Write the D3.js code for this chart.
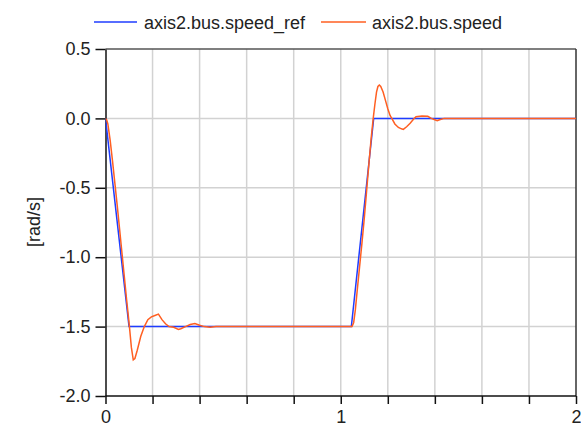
<!DOCTYPE html>
<html>
<head>
<meta charset="utf-8">
<script src="https://cdn.jsdelivr.net/npm/d3@7"></script>
<style>
  html, body { margin: 0; padding: 0; background: #fff; }
  svg { display: block; font-family: "Liberation Sans", Arial, sans-serif; }
</style>
</head>
<body>
<svg id="chart" width="581" height="429"></svg>
<script>
// ---- data ----
const seriesNames = ["axis2.bus.speed_ref", "axis2.bus.speed"];
const refTime  = [0, 0.1, 1.045, 1.14, 2.0];
const refValue = [0, -1.5, -1.5, 0, 0];
const speedTime = [0, 0.005, 0.01, 0.02, 0.03, 0.04, 0.05, 0.06, 0.07, 0.08, 0.09, 0.10, 0.105, 0.11, 0.118, 0.125, 0.135, 0.15, 0.165, 0.18, 0.195, 0.21, 0.225, 0.24, 0.255, 0.27, 0.29, 0.31, 0.32, 0.34, 0.36, 0.38, 0.40, 0.42, 0.445, 0.47,
  1.048, 1.055, 1.062, 1.07, 1.08, 1.09, 1.10, 1.11, 1.12, 1.13, 1.138, 1.145, 1.152, 1.158, 1.164, 1.17, 1.18, 1.19, 1.20, 1.21, 1.217, 1.23, 1.245, 1.258, 1.266, 1.28, 1.295, 1.31, 1.32, 1.345, 1.37, 1.385, 1.40, 1.41, 1.42, 1.44, 2.0];
const speedValue = [0, -0.01, -0.04, -0.16, -0.31, -0.47, -0.63, -0.80, -0.97, -1.14, -1.31, -1.47, -1.56, -1.65, -1.74, -1.73, -1.67, -1.57, -1.50, -1.45, -1.43, -1.42, -1.41, -1.45, -1.48, -1.50, -1.505, -1.52, -1.515, -1.50, -1.485, -1.478, -1.49, -1.50, -1.505, -1.50,
  -1.5, -1.47, -1.38, -1.24, -1.07, -0.90, -0.72, -0.52, -0.32, -0.13, 0.0, 0.10, 0.19, 0.23, 0.24, 0.23, 0.19, 0.13, 0.07, 0.02, 0.0, -0.04, -0.065, -0.075, -0.079, -0.06, -0.035, -0.005, 0.012, 0.017, 0.015, 0.0, -0.01, -0.017, -0.01, 0.0, 0];
const xTicks = [0, 0.2, 0.4, 0.6, 0.8, 1.0, 1.2, 1.4, 1.6, 1.8, 2.0];
const xTickLabels = ["0", "", "", "", "", "1", "", "", "", "", "2"];
const yTicks = [0.5, 0.0, -0.5, -1.0, -1.5, -2.0];
const yTickLabels = ["0.5", "0.0", "-0.5", "-1.0", "-1.5", "-2.0"];
const yLabel = "[rad/s]";
const colors = ["#1f3cff", "#ff5f22"];

// ---- layout ----
const svg = d3.select("#chart");
const x = d3.scaleLinear().domain([0, 2]).range([105.5, 576]);
const y = d3.scaleLinear().domain([-2, 0.5]).range([396, 49]);

// grid
const grid = svg.append("g");
grid.selectAll("line.v").data(xTicks.slice(1, -1)).enter().append("line")
  .attr("x1", d => x(d)).attr("x2", d => x(d))
  .attr("y1", y(0.5)).attr("y2", y(-2))
  .attr("stroke", "#d2d2d2").attr("stroke-width", 1.5);
grid.selectAll("line.h").data(yTicks.slice(1, -1)).enter().append("line")
  .attr("x1", x(0)).attr("x2", x(2))
  .attr("y1", d => y(d)).attr("y2", d => y(d))
  .attr("stroke", "#d2d2d2").attr("stroke-width", 1.5);

// frame top / right
svg.append("line").attr("x1", x(0)).attr("x2", x(2)).attr("y1", y(0.5)).attr("y2", y(0.5))
  .attr("stroke", "#555").attr("stroke-width", 1.5);
svg.append("line").attr("x1", x(2)).attr("x2", x(2)).attr("y1", y(0.5)).attr("y2", y(-2))
  .attr("stroke", "#333").attr("stroke-width", 1.5);

// axes
const xAxis = d3.axisBottom(x).tickValues(xTicks)
  .tickFormat((d, i) => xTickLabels[i]).tickSizeInner(8).tickSizeOuter(0).tickPadding(6);
const gx = svg.append("g").attr("transform", `translate(0,${y(-2)})`).call(xAxis);
const yAxis = d3.axisLeft(y).tickValues(yTicks)
  .tickFormat((d, i) => yTickLabels[i]).tickSizeInner(10).tickSizeOuter(0).tickPadding(5);
const gy = svg.append("g").attr("transform", `translate(${x(0)},0)`).call(yAxis);
[gx, gy].forEach(g => {
  g.select(".domain").attr("stroke", "#111").attr("stroke-width", 1.5);
  g.selectAll(".tick line").attr("stroke", "#111").attr("stroke-width", 1.5);
  g.selectAll(".tick text").attr("fill", "#222").style("font-size", "18px")
    .style("font-family", "'Liberation Sans', Arial, sans-serif");
});
gx.select(".domain").attr("d", `M${x(0)},0H${x(2)}`);

// y label
svg.append("text").attr("transform", `translate(40,222) rotate(-90)`)
  .attr("text-anchor", "middle").attr("fill", "#222").style("font-size", "18px")
  .text(yLabel);

// lines
const clip = svg.append("clipPath").attr("id", "clip").append("rect")
  .attr("x", x(0)).attr("y", y(0.5)).attr("width", x(2) - x(0)).attr("height", y(-2) - y(0.5));
const line = d3.line().x(d => x(d[0])).y(d => y(d[1]));
const refData = refTime.map((t, i) => [t, refValue[i]]);
const spdData = speedTime.map((t, i) => [t, speedValue[i]]);
const plot = svg.append("g").attr("clip-path", "url(#clip)");
plot.append("path").datum(refData).attr("d", line).attr("fill", "none")
  .attr("stroke", colors[0]).attr("stroke-width", 1.5);
plot.append("path").datum(spdData).attr("d", line).attr("fill", "none")
  .attr("stroke", colors[1]).attr("stroke-width", 1.5);

// legend
const legendItems = [
  {name: seriesNames[0], color: colors[0], x0: 94, x1: 137, tx: 144},
  {name: seriesNames[1], color: colors[1], x0: 321, x1: 366, tx: 372}
];
const lg = svg.append("g");
legendItems.forEach(it => {
  lg.append("line").attr("x1", it.x0).attr("x2", it.x1).attr("y1", 22).attr("y2", 22)
    .attr("stroke", it.color).attr("stroke-width", 1.5);
  lg.append("text").attr("x", it.tx).attr("y", 29).attr("fill", "#222")
    .style("font-size", "18px").text(it.name);
});
</script>
</body>
</html>
